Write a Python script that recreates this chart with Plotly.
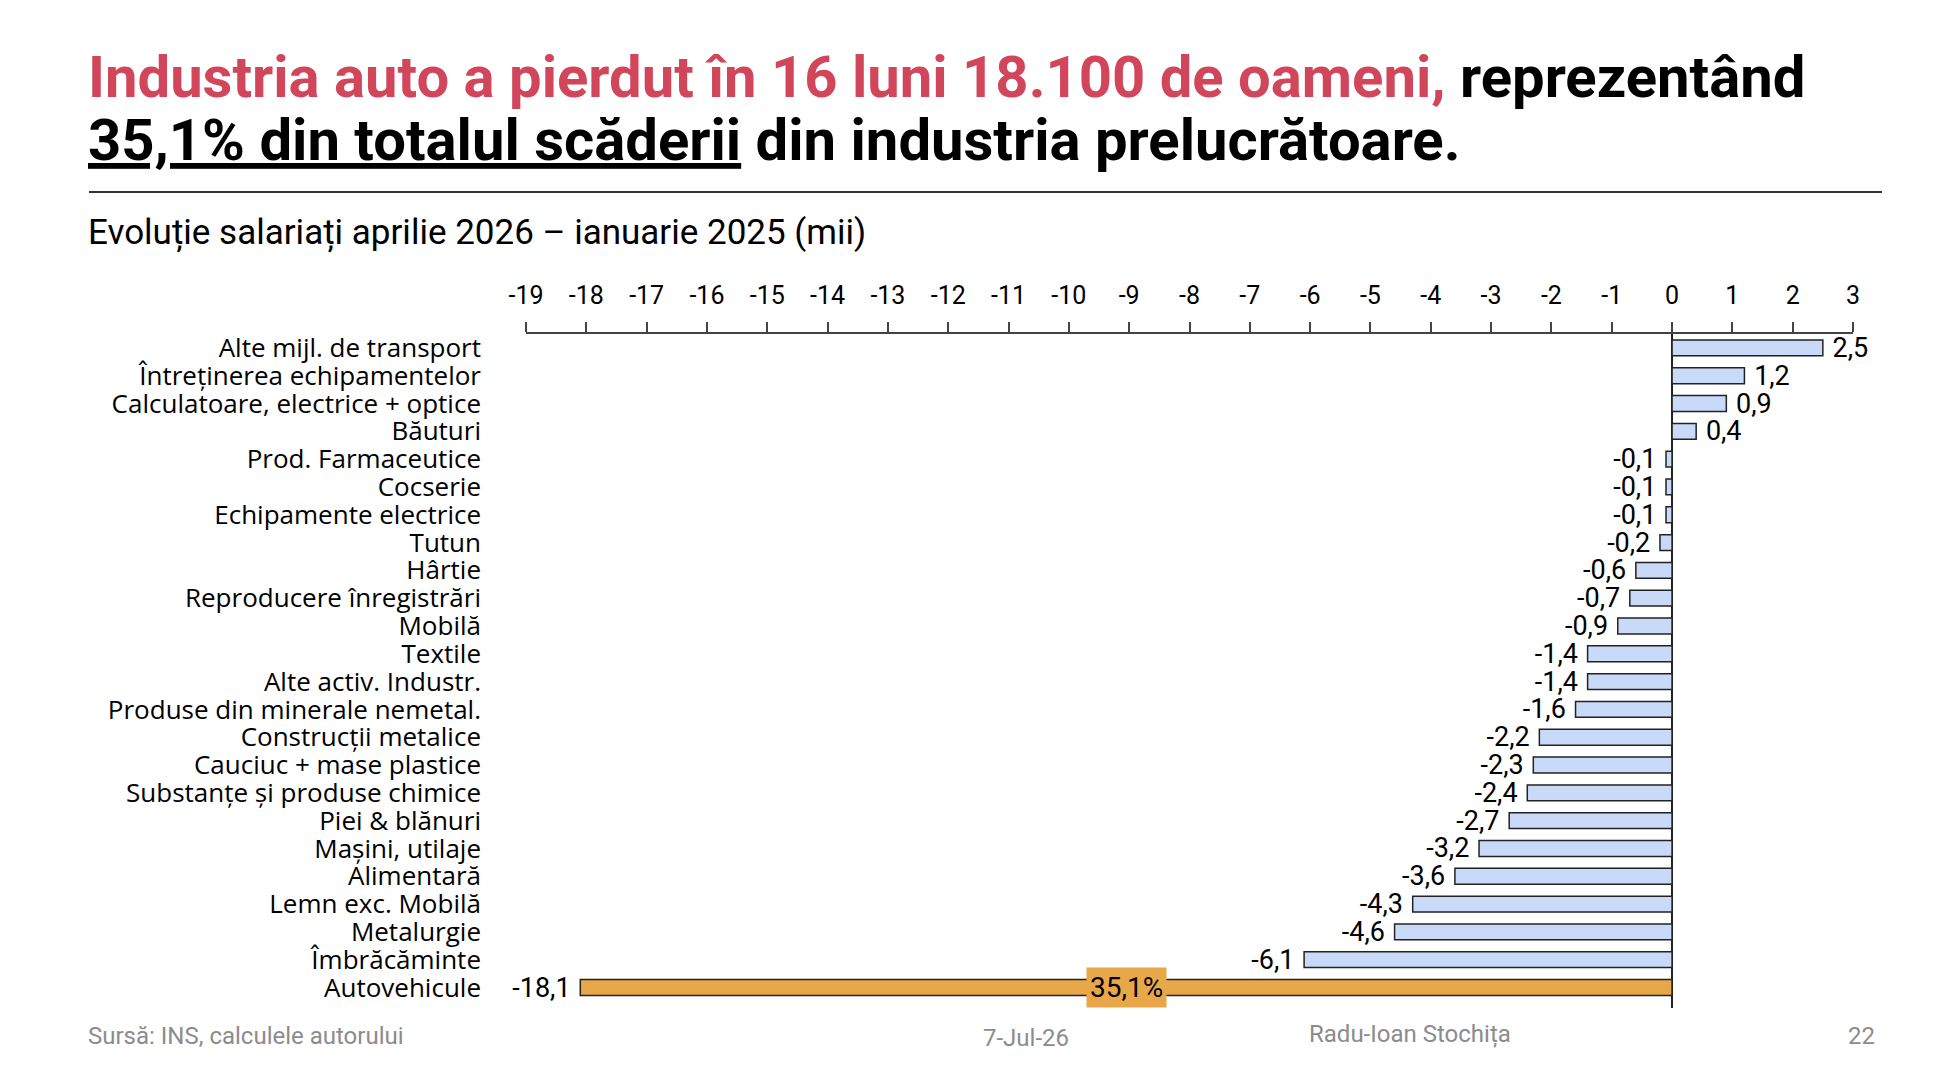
import plotly.graph_objects as go

# date: evolutie salariati aprilie 2026 - ianuarie 2025 (mii)
categorii = ["Alte mijl. de transport", "Întreținerea echipamentelor", "Calculatoare, electrice + optice",
             "Băuturi", "Prod. Farmaceutice", "Cocserie", "Echipamente electrice", "Tutun", "Hârtie",
             "Reproducere înregistrări", "Mobilă", "Textile", "Alte activ. Industr.",
             "Produse din minerale nemetal.", "Construcții metalice", "Cauciuc + mase plastice",
             "Substanțe și produse chimice", "Piei & blănuri", "Mașini, utilaje", "Alimentară",
             "Lemn exc. Mobilă", "Metalurgie", "Îmbrăcăminte", "Autovehicule"]
valori = [2.5, 1.2, 0.9, 0.4, -0.1, -0.1, -0.1, -0.2, -0.6, -0.7, -0.9, -1.4, -1.4, -1.6,
          -2.2, -2.3, -2.4, -2.7, -3.2, -3.6, -4.3, -4.6, -6.1, -18.1]
tick_vals = list(range(-19, 4))
pondere_auto = "35,1%"

W, H = 1940, 1088
L, R, T, B = 518, 95, 326, 88
pw, ph = W - L - R, H - T - B


# pixeli -> coordonate paper
def px(x):
    return (x - L) / pw


def py(y):
    return 1 - (y - T) / ph


narrow = "Roboto, sans-serif"
culori = ["#E8A84A" if c == "Autovehicule" else "#C9DAF8" for c in categorii]
nb = "\u00a0"
texte = [(nb + f"{v:.1f}" if v > 0 else f"{v:.1f}" + nb).replace(".", ",") for v in valori]

fig = go.Figure(go.Bar(
    x=valori, y=categorii, orientation="h",
    marker=dict(color=culori, line=dict(color="#222222", width=1.5)),
    text=texte, textposition="outside", constraintext="none", cliponaxis=False,
    textfont=dict(family=narrow, size=27, color="black"),
))

fig.update_layout(
    width=W, height=H,
    paper_bgcolor="white", plot_bgcolor="white",
    margin=dict(l=L, r=R, t=T, b=B),
    bargap=0.43,
    showlegend=False,
)
fig.update_xaxes(
    side="top", range=[-19, 3], tickvals=tick_vals, ticktext=[str(t) for t in tick_vals],
    showline=True, linecolor="#444444", linewidth=1.5, ticks="outside", ticklen=10,
    tickcolor="#444444", tickwidth=1.5, showgrid=False, ticklabelstandoff=8,
    zeroline=True, zerolinecolor="#222222", zerolinewidth=1.5,
    tickfont=dict(family=narrow, size=25, color="black"),
)
fig.update_yaxes(
    autorange="reversed", showgrid=False, showline=False, ticks="",
    tickmode="array", tickvals=categorii, ticktext=categorii,
    ticklabelstandoff=44,
    tickfont=dict(family="Open Sans, Noto Sans, sans-serif", size=26, color="black"),
)

# titlu
linie1 = ("<b><span style='color:#D2465B'>Industria auto a pierdut în 16 luni 18.100 de oameni,</span>"
          " reprezentând</b>")
linie2 = "<b><u>35,1% din totalul scăderii</u> din industria prelucrătoare.</b>"
for txt, yy in [(linie1, 69), (linie2, 132)]:
    fig.add_annotation(text=txt, xref="paper", yref="paper", x=px(78), y=py(yy),
                       xanchor="left", yanchor="middle", align="left", showarrow=False,
                       font=dict(family=narrow, size=58, color="black"))
fig.add_shape(type="line", xref="paper", yref="paper", x0=px(81), x1=px(1874),
              y0=py(184), y1=py(184), line=dict(color="#333333", width=2))
fig.add_annotation(text="Evoluție salariați aprilie 2026 – ianuarie 2025 (mii)", xref="paper", yref="paper",
                   x=px(78), y=py(225), xanchor="left", yanchor="middle",
                   showarrow=False, font=dict(family=narrow, size=35, color="black"))

# eticheta pondere auto
fig.add_annotation(text=pondere_auto, x=-9.05, y="Autovehicule", showarrow=False,
                   bgcolor="#E8A84A", borderpad=3,
                   font=dict(family=narrow, size=28, color="black"))

# subsol
subsol = [("Sursă: INS, calculele autorului", 78, "left", 1028), ("7-Jul-26", 1018, "center", 1030),
          ("Radu-Ioan Stochița", 1402, "center", 1026), ("22", 1869, "right", 1028)]
for txt, xx, anc, yy in subsol:
    fig.add_annotation(text=txt, xref="paper", yref="paper", x=px(xx), y=py(yy),
                       xanchor=anc, yanchor="middle", showarrow=False,
                       font=dict(family=narrow, size=24, color="#8C8C8C"))

fig.write_html("out.html")
